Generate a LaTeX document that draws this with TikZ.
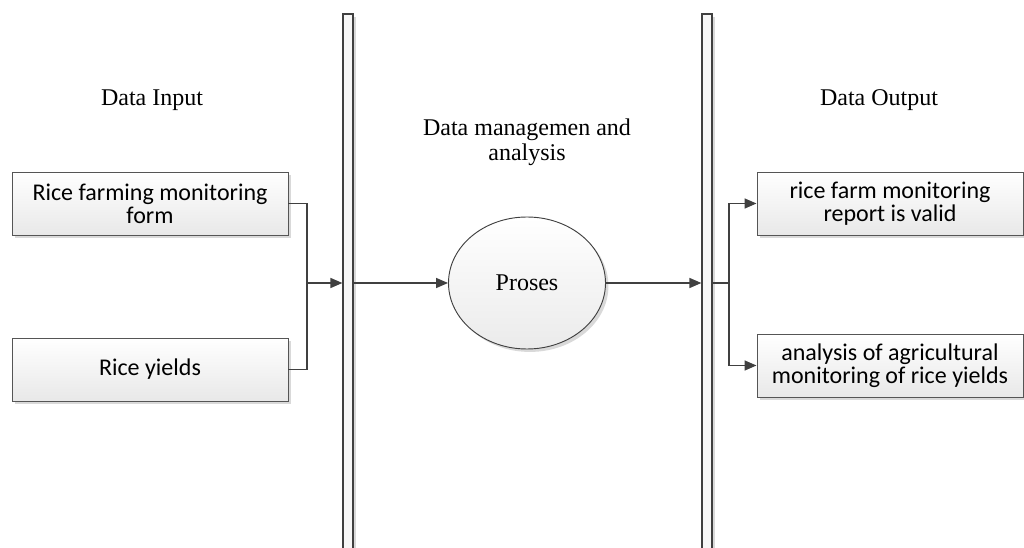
\documentclass[tikz,border=0pt]{standalone}
\usepackage{fontspec}
\setmainfont{Liberation Serif}
\newfontfamily\boxfont{Carlito}
\usetikzlibrary{arrows.meta,shadows,positioning,shapes.geometric}
\definecolor{linecol}{HTML}{404040}
\definecolor{bordercol}{HTML}{555555}
\tikzset{
  every picture/.style={x=0.75pt,y=-0.75pt},
  shad/.style={drop shadow={shadow xshift=2.2pt,shadow yshift=-2.2pt,fill=black!15,opacity=1}},
  databox/.style={draw=bordercol,line width=0.7pt,rectangle,minimum height=47.25pt,
    top color=white,bottom color=black!9,shad,align=center,
    font=\boxfont\fontsize{18}{17.5}\selectfont,inner sep=0pt},
  lane/.style={draw=linecol,line width=0.9pt,rectangle,fill=black!3,minimum width=7.5pt,
    minimum height=408pt,inner sep=0pt,shad},
  procnode/.style={draw=linecol,line width=0.7pt,ellipse,minimum width=117.75pt,minimum height=99pt,
    top color=white,bottom color=black!8,shad,font=\fontsize{18}{19}\selectfont,inner sep=0pt},
  title/.style={align=center,font=\fontsize{18}{19}\selectfont,inner sep=0pt},
  conn/.style={draw=linecol,line width=1.1pt},
  arr/.style={conn,-{Triangle[length=9pt,width=7.5pt]}}
}
\begin{document}
\begin{tikzpicture}
\useasboundingbox (0,0) rectangle (1024,548);
\node[lane] (bar1) at (348,286) {};
\node[lane] (bar2) at (707,286) {};
\node[databox,minimum width=207pt] (in1) at (150,203.5) {Rice farming monitoring\\form};
\node[databox,minimum width=207pt] (in2) at (150,369.5) {Rice yields};
\node[procnode] (proc) at (527,283) {Proses};
\node[databox,minimum width=199.5pt] (out1) at (890,203.5) {rice farm monitoring\\report is valid};
\node[databox,minimum width=199.5pt] (out2) at (890,365.5) {analysis of agricultural\\monitoring of rice yields};
\node[title] (tin) at (152,100) {Data Input};
\node[title] (tmid) at (527,142.5) {Data managemen and\\analysis};
\node[title] (tout) at (879,100) {Data Output};
\coordinate (j1) at (307,283);
\coordinate (j2) at (729,283);
\draw[conn] (in1.east) -| (j1);
\draw[conn] (in2.east) -| (j1);
\draw[arr] (j1) -- (bar1.west |- j1);
\draw[arr] (bar1.east |- j1) -- (proc.west);
\draw[arr] (proc.east) -- (bar2.west |- proc.east);
\draw[conn] (bar2.east |- j2) -- (j2);
\draw[arr] (j2) |- (out1.west);
\draw[arr] (j2) |- (out2.west);
\end{tikzpicture}
\end{document}
